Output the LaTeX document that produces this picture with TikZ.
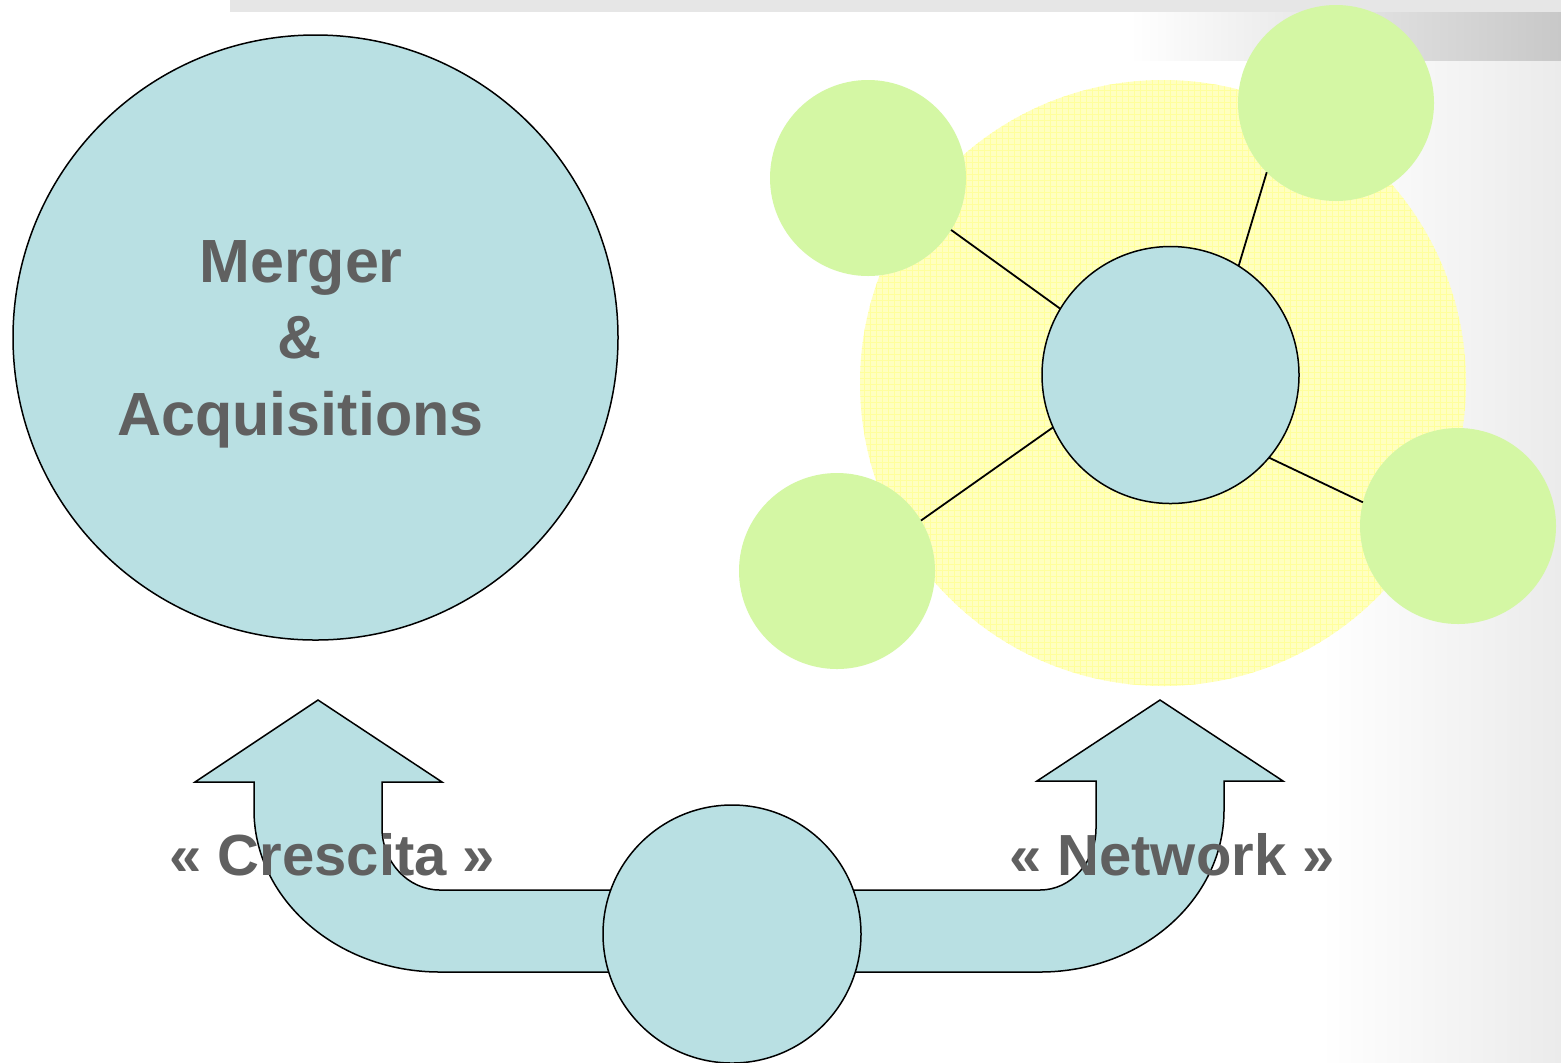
\documentclass[tikz,border=0pt]{standalone}
\usepackage{fontspec}
\setmainfont{Liberation Sans}
\usetikzlibrary{patterns}
\definecolor{blu}{HTML}{B9E0E3}
\definecolor{grn}{HTML}{D4F7A4}
\definecolor{yel}{HTML}{FFFFC0}
\definecolor{yelline}{HTML}{FFFF9C}
\definecolor{txt}{HTML}{606060}
\definecolor{topbar}{HTML}{E6E6E6}
\definecolor{bartwo}{HTML}{C8C8C8}
\definecolor{panel}{HTML}{EBEBEB}
\begin{document}
\begin{tikzpicture}[x=0.5pt,y=-0.5pt,
  bluecirc/.style={circle,draw=black,line width=0.75pt,fill=blu,inner sep=0pt,outer sep=0pt},
  greencirc/.style={circle,fill=grn,inner sep=0pt,outer sep=0pt,minimum size=98pt},
  link/.style={line width=0.9pt,draw=black},
  arrowshape/.style={draw=black,line width=0.75pt,fill=blu,line join=miter},
  mtext/.style={text=txt,font=\bfseries\fontsize{30.5}{38}\selectfont,inner sep=0pt,anchor=base},
  lbl/.style={text=txt,font=\bfseries\fontsize{29}{35}\selectfont,inner sep=0pt,anchor=base}]
\useasboundingbox (0,0) rectangle (1561,1062);
% background
\fill[white] (0,0) rectangle (1561,1062);
\shade[left color=white,right color=panel] (1320,60) rectangle (1561,1062);
\fill[topbar] (230,0) rectangle (1561,12);
\shade[left color=white,right color=bartwo] (1130,12) rectangle (1561,60);
% M&A circle
\node[bluecirc,minimum size=302.5pt] (ma) at (315.5,337.5) {};
\node[mtext] (t1) at (301,282) {Merger};
\node[mtext] (t2) at (300,358) {\&};
\node[mtext] (t3) at (300.5,435) {Acquisitions};
% network
\node[circle,fill=yel,inner sep=0pt,minimum size=303pt] (net) at (1163,383) {};
\fill[pattern=grid,pattern color=yelline] (net.center) circle[radius=151.5pt];
\node[greencirc] (gtl) at (868,178) {};
\node[greencirc] (gtr) at (1336,103) {};
\node[greencirc] (gbl) at (837,571) {};
\node[greencirc] (gr) at (1458,526) {};
\node[bluecirc,minimum size=128.5pt] (hub) at (1170.5,375) {};
\draw[link] (hub.149) -- (gtl.-32.6);
\draw[link] (hub.58.4) -- (gtr.225);
\draw[link] (hub.204) -- (gbl.31);
\draw[link] (hub.-40.6) -- (gr.166);
% arrows
\draw[arrowshape] (318,700) -- (442,782) -- (382,782) -- (382,828)
  .. controls (382,862) and (408,890) .. (440,890) -- (650,890) -- (650,972) -- (440,972)
  .. controls (337,972) and (254,899) .. (254,810) -- (254,782) -- (195,782) -- cycle;
\draw[arrowshape] (1160,700) -- (1283,781) -- (1224,781) -- (1224,810)
  .. controls (1224,899) and (1142,972) .. (1040,972) -- (820,972) -- (820,890) -- (1040,890)
  .. controls (1071,890) and (1096,862) .. (1096,828) -- (1096,781) -- (1037,781) -- cycle;
\node[bluecirc,minimum size=129pt] (base) at (732,934) {};
\node[lbl] (cres) at (332.5,875) {« Crescita »};
\node[lbl] (netw) at (1172,875) {« Network »};
\end{tikzpicture}
\end{document}
